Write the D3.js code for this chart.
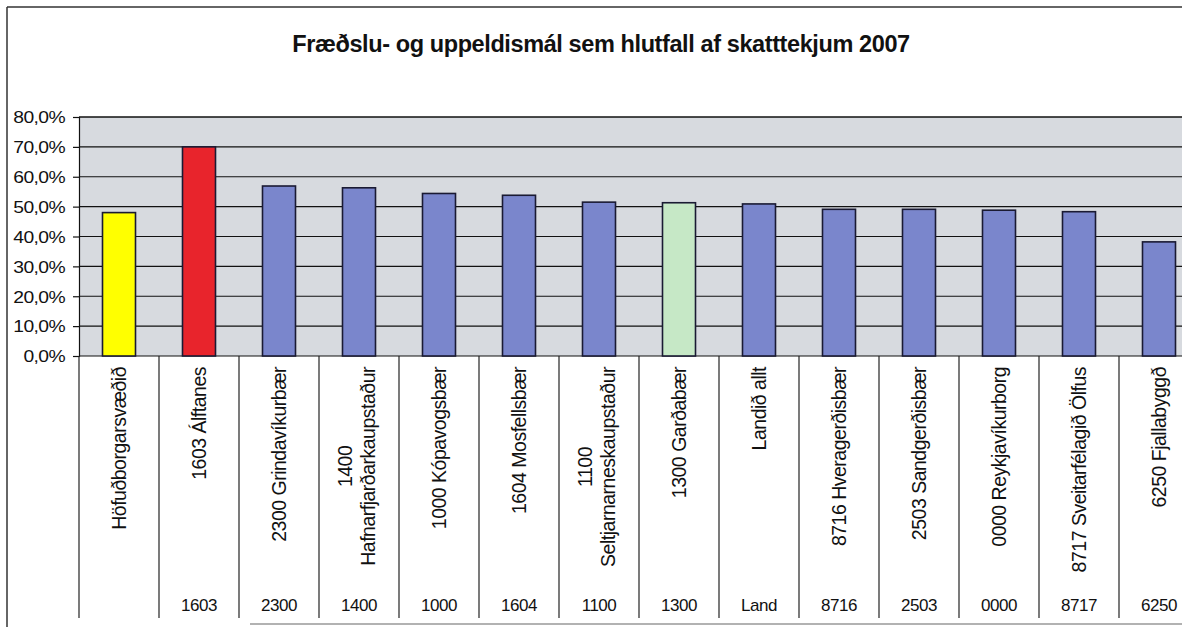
<!DOCTYPE html>
<html>
<head>
<meta charset="utf-8">
<script src="https://cdn.jsdelivr.net/npm/d3@7"></script>
<style>
  body { margin: 0; background: #fff; }
  svg { display: block; font-family: Arial, "Liberation Sans", sans-serif; }
</style>
</head>
<body>
<svg id="chart" width="1182" height="627"></svg>
<script>
const title = "Fræðslu- og uppeldismál sem hlutfall af skatttekjum 2007";

// category labels ("\n" = line break inside the label)
const categories = [
  "Höfuðborgarsvæðið",
  "1603 Álftanes",
  "2300 Grindavíkurbær",
  "1400\nHafnarfjarðarkaupstaður",
  "1000 Kópavogsbær",
  "1604 Mosfellsbær",
  "1100\nSeltjarnarneskaupstaður",
  "1300 Garðabær",
  "Landið allt",
  "8716 Hveragerðisbær",
  "2503 Sandgerðisbær",
  "0000 Reykjavíkurborg",
  "8717 Sveitarfélagið Ölfus",
  "6250 Fjallabyggð"
];
const codes = ["", "1603", "2300", "1400", "1000", "1604", "1100", "1300", "Land", "8716", "2503", "0000", "8717", "6250"];
const values = [0.480, 0.700, 0.569, 0.563, 0.544, 0.538, 0.515, 0.513, 0.509, 0.491, 0.491, 0.488, 0.483, 0.382];
const barColors = ["#ffff00", "#e8242c", "#7a86cc", "#7a86cc", "#7a86cc", "#7a86cc", "#7a86cc",
                   "#c6e8c6", "#7a86cc", "#7a86cc", "#7a86cc", "#7a86cc", "#7a86cc", "#7a86cc"];
const yTicks = [0, 0.1, 0.2, 0.3, 0.4, 0.5, 0.6, 0.7, 0.8];

const svg = d3.select("#chart");
const plot = { left: 79, top: 117, bottom: 356 };
const step = 80;

const x = d3.scaleBand()
  .domain(d3.range(categories.length))
  .range([plot.left, plot.left + step * categories.length])
  .paddingInner(0.5875)
  .paddingOuter(0.29375);

const y = d3.scaleLinear().domain([0, 0.8]).range([plot.bottom, plot.top]);

const isLocale = d3.formatLocale({ decimal: ",", thousands: ".", grouping: [3], currency: ["", " kr."] });
const pct = isLocale.format(".1%");

// outer frame
svg.append("line").attr("x1", 7).attr("x2", 1182).attr("y1", 7).attr("y2", 7)
  .attr("stroke", "#333").attr("stroke-width", 1.5);
svg.append("line").attr("x1", 7).attr("x2", 7).attr("y1", 7).attr("y2", 627)
  .attr("stroke", "#333").attr("stroke-width", 1.5);
svg.append("line").attr("x1", 250).attr("x2", 1182).attr("y1", 624).attr("y2", 624)
  .attr("stroke", "#999").attr("stroke-width", 1.5);

// title
svg.append("text")
  .attr("x", 601).attr("y", 52)
  .attr("text-anchor", "middle")
  .style("font-size", "23.5px").style("font-weight", "bold")
  .style("letter-spacing", "-0.4px")
  .attr("fill", "#111")
  .text(title);

// plot background
svg.append("rect")
  .attr("x", plot.left).attr("y", plot.top)
  .attr("width", 1182 - plot.left).attr("height", plot.bottom - plot.top)
  .attr("fill", "#d7dadf");

// gridlines
svg.append("g")
  .selectAll("line")
  .data(yTicks)
  .join("line")
  .attr("x1", plot.left).attr("x2", 1182)
  .attr("y1", d => y(d)).attr("y2", d => y(d))
  .attr("stroke", "#111").attr("stroke-width", d => d === 0.8 ? 1.5 : 1.2);

// y axis
const yAxis = svg.append("g")
  .attr("transform", `translate(${plot.left},0)`)
  .call(d3.axisLeft(y).tickValues(yTicks).tickFormat(pct).tickSize(6).tickPadding(0));
yAxis.select(".domain").attr("stroke", "#111").attr("stroke-width", 1.2);
yAxis.selectAll(".tick line").attr("stroke", "#111").attr("stroke-width", 1.2);
yAxis.selectAll(".tick text")
  .attr("x", null).attr("dy", "0.35em")
  .attr("transform", "translate(-14,0) scale(1.17,1)")
  .style("font-size", "16.5px").style("letter-spacing", "-0.5px")
  .attr("fill", "#111");

// bars
svg.append("g")
  .selectAll("rect")
  .data(values)
  .join("rect")
  .attr("x", (d, i) => x(i))
  .attr("y", d => y(d))
  .attr("width", x.bandwidth())
  .attr("height", d => y(0) - y(d))
  .attr("fill", (d, i) => barColors[i])
  .attr("stroke", "#1a1a33").attr("stroke-width", 1.6);

// category table lines
svg.append("g")
  .selectAll("line")
  .data(d3.range(categories.length + 1))
  .join("line")
  .attr("x1", i => plot.left + i * step).attr("x2", i => plot.left + i * step)
  .attr("y1", plot.bottom).attr("y2", 618)
  .attr("stroke", "#222").attr("stroke-width", 1.2);

// rotated category labels: block anchored at the top, lines centred on each other
const center = i => x(i) + x.bandwidth() / 2;
const labelTop = 367;
const labels = svg.append("g")
  .selectAll("g")
  .data(categories)
  .join("g")
  .attr("transform", (d, i) => `translate(${center(i)},${labelTop}) rotate(-90)`);

labels.each(function (d) {
  const g = d3.select(this);
  const lines = d.split("\n");
  const offsets = lines.length === 1 ? [0] : [-14, 9];
  const texts = g.selectAll("text")
    .data(lines)
    .join("text")
    .attr("y", (l, j) => offsets[j])
    .attr("dy", "0.36em")
    .style("font-size", "19.5px").style("letter-spacing", "-0.5px")
    .attr("fill", "#111")
    .text(l => l);
  const widest = d3.max(texts.nodes(), n => n.getComputedTextLength());
  texts.attr("text-anchor", "middle").attr("x", -widest / 2);
});

// codes at the bottom
svg.append("g")
  .selectAll("text")
  .data(codes)
  .join("text")
  .attr("x", (d, i) => center(i))
  .attr("y", 611)
  .attr("text-anchor", "middle")
  .style("font-size", "17px").style("letter-spacing", "-0.5px")
  .attr("fill", "#111")
  .text(d => d);
</script>
</body>
</html>
